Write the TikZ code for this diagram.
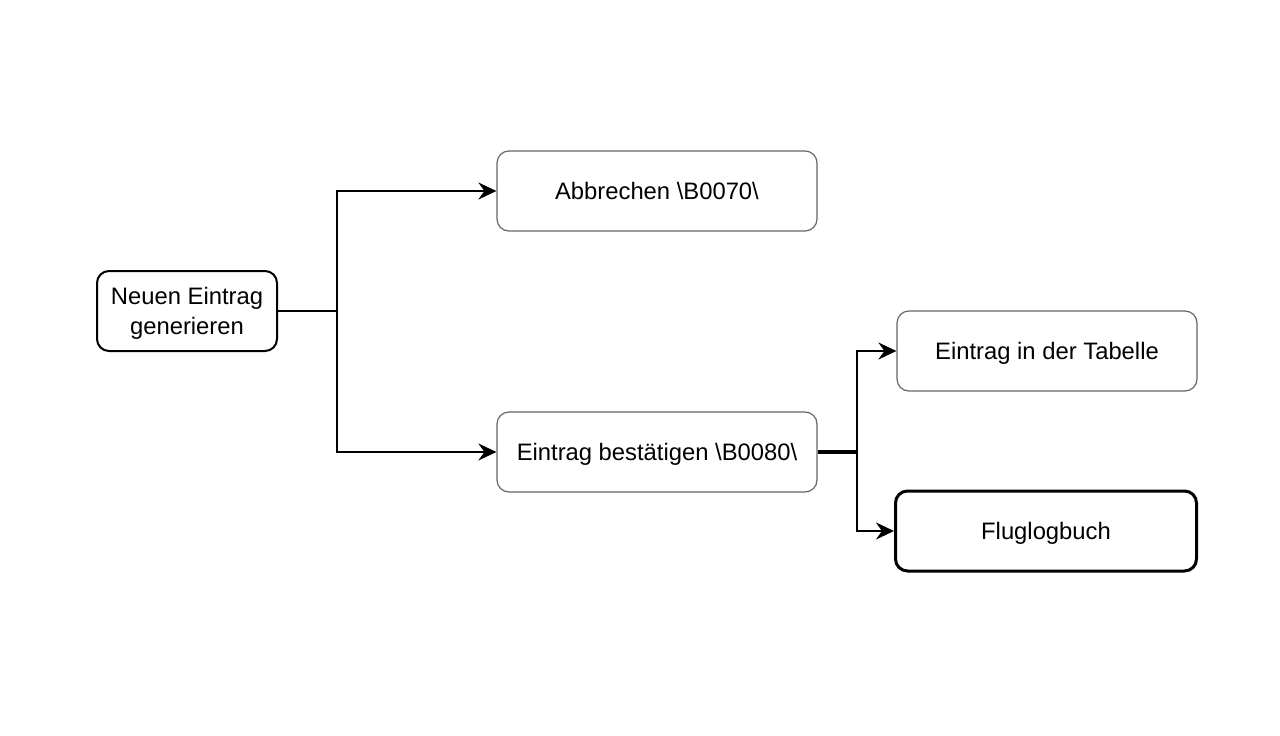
\documentclass[tikz,border=0pt]{standalone}
\usepackage{fontspec}
\setmainfont{Liberation Sans}
\usetikzlibrary{arrows.meta,positioning}
\definecolor{boxgray}{HTML}{666666}
\tikzset{
  base/.style={rectangle, rounded corners=12pt, align=center, inner sep=0pt,
    font=\fontsize{23.8}{29.5}\selectfont, fill=white, text depth=0pt},
  graybox/.style={base, draw=boxgray, line width=1.2pt},
  blackbox/.style={base, draw=black, line width=2pt},
  boldbox/.style={base, draw=black, line width=3pt},
  conn/.style={line width=2pt, -{Stealth[length=18pt,width=17pt,inset=6pt]}},
  plain/.style={line width=2pt},
  thick4/.style={line width=4pt}
}
\begin{document}
\begin{tikzpicture}[x=1pt,y=-1pt]
\useasboundingbox[fill=white] (0,0) rectangle (1280,736);
\node[blackbox, minimum width=180pt, minimum height=80pt] (neu) at (187,311) {Neuen Eintrag\\generieren};
\node[graybox, minimum width=320pt, minimum height=80pt] (abb) at (657,191) {Abbrechen \textbackslash B0070\textbackslash};
\node[graybox, minimum width=320pt, minimum height=80pt] (best) at (657,452) {Eintrag bestätigen \textbackslash B0080\textbackslash};
\node[graybox, minimum width=300pt, minimum height=80pt] (tab) at (1047,351) {Eintrag in der Tabelle};
\node[boldbox, minimum width=301pt, minimum height=80pt] (flug) at (1046,531) {Fluglogbuch};
\coordinate (j1) at (337,311);
\coordinate (j2) at (857,452);
\draw[plain] (neu.east) -- (j1);
\draw[conn] (j1) |- (abb.west);
\draw[conn] (j1) |- (best.west);
\draw[thick4] (best.east) -- (j2);
\draw[conn] (j2) |- (tab.west);
\draw[conn] (j2) |- (flug.west);
\end{tikzpicture}
\end{document}
